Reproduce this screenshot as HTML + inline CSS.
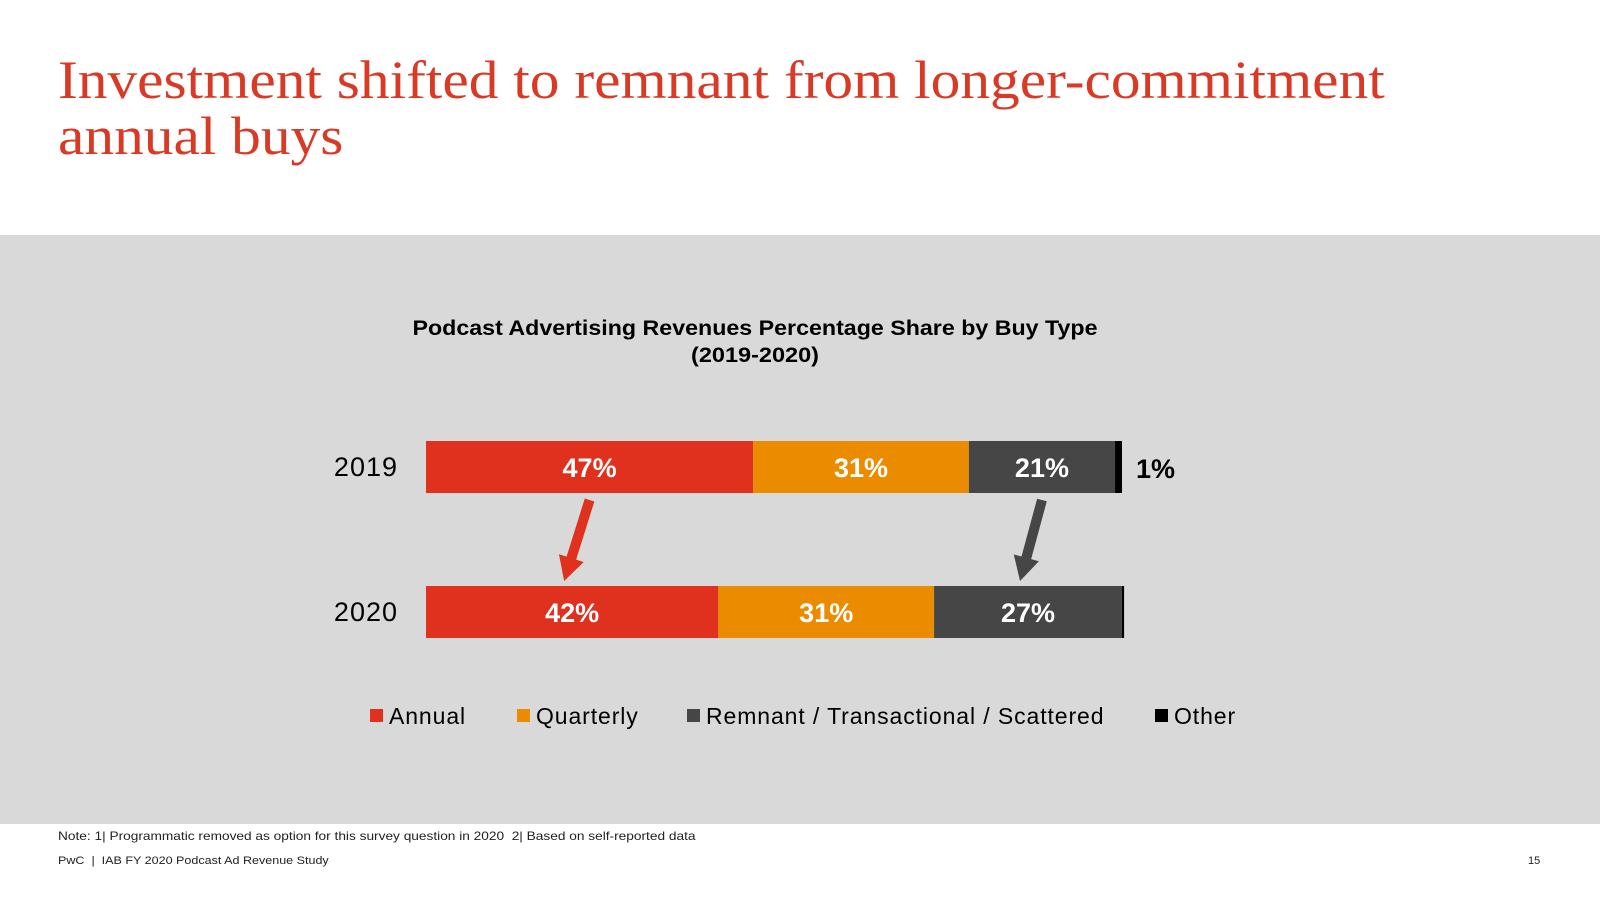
<!DOCTYPE html>
<html><head><meta charset="utf-8"><style>
body{margin:0;width:1600px;height:900px;background:#fff;position:relative;overflow:hidden;font-family:"Liberation Sans",sans-serif}
.t{position:absolute;white-space:nowrap}
</style></head><body>
<div class="t" style="left:58px;top:52px;font-family:'Liberation Serif',serif;font-size:54px;line-height:56px;color:#d93a26;transform:scaleX(1.1);transform-origin:left">Investment shifted to remnant from longer-commitment<br>annual buys</div>
<div style="position:absolute;left:0;top:235px;width:1600px;height:589px;background:#d9d9d9"></div>
<svg id="chart" width="1600" height="900" style="position:absolute;left:0;top:0"></svg>
<div class="t" style="left:58px;top:829px;font-size:12px;color:#222;transform:scaleX(1.14);transform-origin:left">Note: 1| Programmatic removed as option for this survey question in 2020 &nbsp;2| Based on self-reported data</div>
<div class="t" style="left:58px;top:855px;font-size:11px;color:#222;transform:scaleX(1.14);transform-origin:left">PwC &nbsp;| &nbsp;IAB FY 2020 Podcast Ad Revenue Study</div>
<div class="t" style="left:1528px;top:855px;font-size:11px;color:#222">15</div>
<script>
const years=["2019","2020"];
const series=["Annual","Quarterly","Remnant / Transactional / Scattered","Other"];
const annual=[47,42];
const quarterly=[31,31];
const remnant=[21,27];
const other=[1,0.3];
const labels2019=["47%","31%","21%","1%"];
const labels2020=["42%","31%","27%",""];
const colors=["#e0301e","#eb8c00","#464646","#000000"];
const svg=document.getElementById('chart');const NS="http://www.w3.org/2000/svg";
function el(t,a,txt){const e=document.createElementNS(NS,t);for(const k in a)e.setAttribute(k,a[k]);if(txt!==undefined)e.textContent=txt;svg.appendChild(e);return e;}
const x0=426,totalW=696;
const xs=v=>v*totalW/100;
const rowY=[441,586],barH=52;
function txt(x,y,s,o){const e=el('text',Object.assign({x:x,y:y,'font-family':'Liberation Sans, sans-serif'},o),s);return e;}
let t1=txt(755,335,"Podcast Advertising Revenues Percentage Share by Buy Type",{'font-size':21,'font-weight':'bold','text-anchor':'middle',fill:'#000',textLength:685,lengthAdjust:'spacingAndGlyphs'});

let t2=txt(755,362,"(2019-2020)",{'font-size':21,'font-weight':'bold','text-anchor':'middle',fill:'#000',textLength:128,lengthAdjust:'spacingAndGlyphs'});

const data=[annual,quarterly,remnant,other];
const labs=[labels2019,labels2020];
years.forEach((yr,i)=>{
  const y=rowY[i];
  const yl=txt(398,y+barH/2+9,yr,{'font-size':27,'text-anchor':'end',fill:'#000','letter-spacing':'1'});
  
  
  let cx=x0;
  data.forEach((s,j)=>{
    const w=xs(s[i]);
    const r=el('rect',{x:cx,y:y,width:w,height:barH,fill:colors[j]});
    
    
    const l=labs[i][j];
    if(l){
      let lt;
      if(j<3) lt=txt(cx+w/2,y+barH/2+10,l,{'font-size':27,'font-weight':'bold','text-anchor':'middle',fill:'#fff'});
      else lt=txt(cx+w+14,y+barH/2+11,l,{'font-size':27,'font-weight':'bold',fill:'#000'});
      
      
    }
    cx+=w;
  });
});
function arrow(xa,xb,col,name){
  const ya=500,yb=581;const dx=xb-xa,dy=yb-ya,L=Math.hypot(dx,dy),ux=dx/L,uy=dy/L,px=-uy,py=ux;
  const hl=24,sw=5,hw=13;const bx=xb-ux*hl,by=yb-uy*hl;
  const p=[[xa+px*sw,ya+py*sw],[bx+px*sw,by+py*sw],[bx+px*hw,by+py*hw],[xb,yb],[bx-px*hw,by-py*hw],[bx-px*sw,by-py*sw],[xa-px*sw,ya-py*sw]];
  const a=el('polygon',{points:p.map(q=>q.join(',')).join(' '),fill:col});
  
  
}
arrow(x0+xs(annual[0])/2,x0+xs(annual[1])/2-8,colors[0],'arrow-annual');
arrow(x0+xs(annual[0]+quarterly[0]+remnant[0]/2),x0+xs(annual[1]+quarterly[1]+remnant[1]/2)-8,colors[2],'arrow-remnant');
const legX=[370,517,687,1155];
series.forEach((s,j)=>{
  const r=el('rect',{x:legX[j],y:709,width:13,height:13,fill:colors[j]});
  
  
  const t=txt(legX[j]+19,724,s,{'font-size':23,fill:'#000','letter-spacing':'0.9'});
  
  
});
</script>
</body></html>
